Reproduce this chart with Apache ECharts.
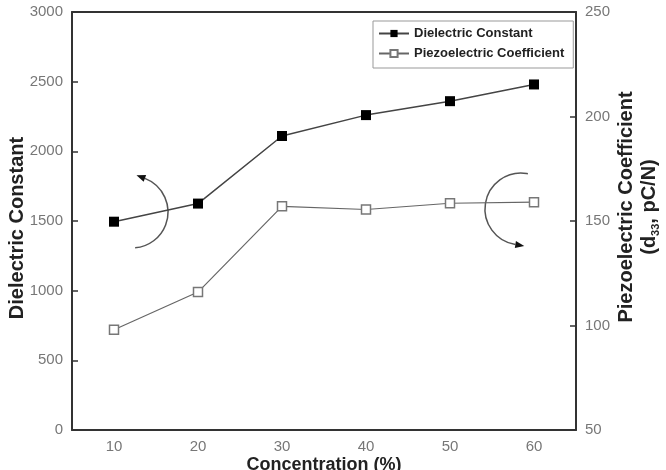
<!DOCTYPE html>
<html>
<head>
<meta charset="utf-8">
<script src="https://cdn.jsdelivr.net/npm/echarts@6/dist/echarts.min.js"></script>
<style>
html, body { margin: 0; padding: 0; background: #fff; }
#chart { width: 666px; height: 470px; }
</style>
</head>
<body>
<div id="chart"></div>
<script>
// values
const concentration = ['10', '20', '30', '40', '50', '60'];
const dielectric = [1495, 1625, 2110, 2260, 2360, 2480];
const piezo = [98, 116, 157, 155.5, 158.5, 159];

const chart = echarts.init(document.getElementById('chart'));

const axisColor = '#333';
const labelStyle = { color: '#777', fontSize: 15, fontFamily: 'Liberation Sans, Arial, sans-serif', formatter: v => String(v) };
const titleStyle = { color: '#222', fontSize: 20, fontWeight: 'bold', fontFamily: 'Liberation Sans, Arial, sans-serif' };

// curved "which axis" arrows
function arrowArc(cx, cy, r, a0, a1, headAt) {
  const rad = Math.PI / 180;
  const t = headAt * rad;
  const ex = cx + r * Math.cos(t), ey = cy + r * Math.sin(t);
  // head points toward decreasing angle if headAt is start, increasing if end
  const s = headAt === a0 ? -1 : 1;
  const dx = -Math.sin(t) * s, dy = Math.cos(t) * s;
  const nx = -dy, ny = dx;
  return [
    {
      type: 'arc',
      shape: { cx: cx, cy: cy, r: r, startAngle: a0 * rad, endAngle: a1 * rad, clockwise: true },
      style: { stroke: '#555', lineWidth: 1.5, fill: null }
    },
    {
      type: 'polygon',
      shape: { points: [[ex + dx * 9, ey + dy * 9], [ex + nx * 3.5, ey + ny * 3.5], [ex - nx * 3.5, ey - ny * 3.5]] },
      style: { fill: '#111' }
    }
  ];
}

const option = {
  animation: false,
  grid: { left: 72, right: 90, top: 12, bottom: 40, containLabel: false, outerBoundsMode: 'none' },
  legend: {
    left: 373,
    top: 21,
    orient: 'vertical',
    padding: [6, 9, 8, 5],
    itemGap: 7,
    itemWidth: 30,
    itemHeight: 9,
    borderColor: '#999',
    borderWidth: 1,
    textStyle: { fontSize: 13, fontWeight: 'bold', color: '#222', lineHeight: 12, fontFamily: 'Liberation Sans, Arial, sans-serif' },
    data: ['Dielectric Constant', 'Piezoelectric Coefficient']
  },
  xAxis: [
    {
      type: 'category',
      data: concentration,
      position: 'bottom',
      name: 'Concentration (%)',
      nameLocation: 'middle',
      nameGap: 26,
      nameMoveOverlap: false,
      nameTextStyle: Object.assign({}, titleStyle, { fontSize: 18 }),
      axisLine: { lineStyle: { color: axisColor, width: 2 } },
      axisTick: { inside: true, alignWithLabel: true, length: 6, lineStyle: { color: axisColor, width: 1.5 } },
      axisLabel: Object.assign({ margin: 9 }, labelStyle),
      splitLine: { show: false }
    },
    {
      type: 'category',
      data: concentration,
      position: 'top',
      axisLine: { lineStyle: { color: axisColor, width: 2 } },
      axisTick: { inside: true, alignWithLabel: true, length: 6, lineStyle: { color: axisColor, width: 1.5 } },
      axisLabel: { show: false },
      splitLine: { show: false }
    }
  ],
  yAxis: [
    {
      type: 'value',
      min: 0,
      max: 3000,
      interval: 500,
      position: 'left',
      name: 'Dielectric Constant',
      nameLocation: 'middle',
      nameRotate: 90,
      nameGap: 45,
      nameMoveOverlap: false,
      nameTextStyle: Object.assign({}, titleStyle, { padding: [0, 14, 0, 0] }),
      axisLine: { show: true, lineStyle: { color: axisColor, width: 2 } },
      axisTick: { show: true, inside: true, length: 6, lineStyle: { color: axisColor, width: 1.5 } },
      axisLabel: Object.assign({ margin: 9 }, labelStyle),
      splitLine: { show: false }
    },
    {
      type: 'value',
      min: 50,
      max: 250,
      interval: 50,
      position: 'right',
      name: 'Piezoelectric Coefficient\n(d{sub|33}, pC/N)',
      nameLocation: 'middle',
      nameRotate: 90,
      nameGap: 39,
      nameMoveOverlap: false,
      nameTextStyle: Object.assign({}, titleStyle, {
        lineHeight: 23,
        padding: [0, 0, 0, 28],
        rich: { sub: { fontSize: 11, fontWeight: 'bold', color: '#222', verticalAlign: 'bottom', lineHeight: 23, padding: [10, 0, 0, 0] } }
      }),
      axisLine: { show: true, lineStyle: { color: axisColor, width: 2 } },
      axisTick: { show: true, inside: true, length: 6, lineStyle: { color: axisColor, width: 1.5 } },
      axisLabel: Object.assign({ margin: 9 }, labelStyle),
      splitLine: { show: false }
    }
  ],
  series: [
    {
      name: 'Dielectric Constant',
      type: 'line',
      xAxisIndex: 0,
      yAxisIndex: 0,
      data: dielectric,
      symbol: 'rect',
      symbolSize: 10,
      lineStyle: { color: '#444', width: 1.5 },
      itemStyle: { color: '#000', borderColor: '#000', borderWidth: 0 }
    },
    {
      name: 'Piezoelectric Coefficient',
      type: 'line',
      xAxisIndex: 0,
      yAxisIndex: 1,
      data: piezo,
      symbol: 'rect',
      symbolSize: 9,
      lineStyle: { color: '#666', width: 1.2 },
      itemStyle: { color: '#fff', borderColor: '#777', borderWidth: 1.5 }
    }
  ],
  graphic: [].concat(
    arrowArc(132, 212, 36, -69, 85, -69),
    arrowArc(521, 209, 36, 99, 281, 99)
  )
};

chart.setOption(option);
</script>
</body>
</html>
